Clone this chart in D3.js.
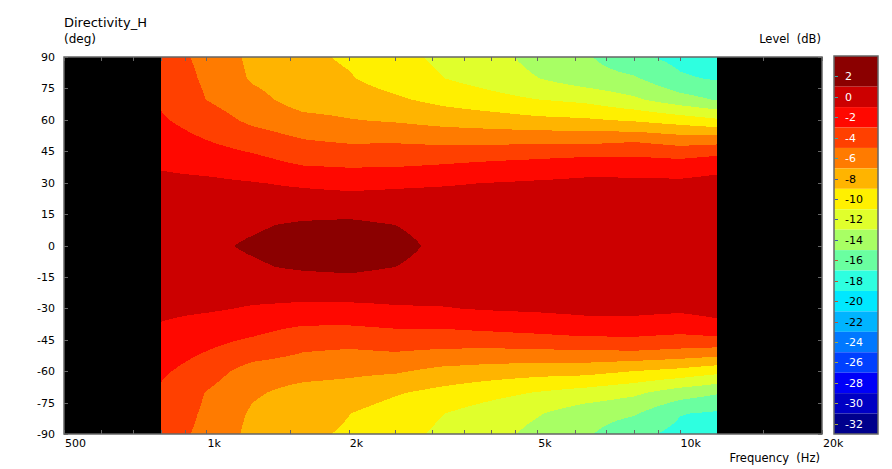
<!DOCTYPE html>
<html><head><meta charset="utf-8">
<script src="https://cdn.jsdelivr.net/npm/d3@7"></script>
<style>
body{margin:0;background:#fff;}
svg text{font-family:"DejaVu Sans",Verdana,sans-serif;font-size:11px;fill:#000;}
</style>
</head><body><svg id="chart" width="892" height="469"></svg>
<script>
// ---- data (dB level, rows are angles from +90 to -90 deg) ----
const freqs = [800,1000,1250,1600,2000,2500,3150,4000,5000,6300,8000,10000,12000];
const angles = [90,80,70,60,50,40,30,20,10,0,-10,-20,-30,-40,-50,-60,-70,-80,-90];
const db800   = [-4.2,-3.8,-3.3,-2.75,-2.02,-1.29,-0.55,0.0,0.3,0.4,0.3,0.0,-0.55,-1.27,-1.98,-2.7,-3.3,-3.8,-4.2];
const db1000  = [-5.45,-5.3,-5.05,-4.0,-2.94,-1.79,-0.6,0.15,0.55,0.7,0.55,0.1,-0.75,-2.05,-2.99,-4.05,-5.1,-5.3,-5.45];
const db1250  = [-7.5,-7.25,-6.33,-5.44,-3.86,-2.35,-0.9,0.0,0.8,1.2,0.8,-0.1,-1.2,-2.55,-3.91,-5.97,-6.73,-7.3,-7.6];
const db1600  = [-8.6,-8.3,-7.94,-6.4,-4.85,-3.32,-1.3,0.0,1.25,1.7,1.25,-0.1,-1.45,-3.39,-4.9,-6.3,-7.7,-8.3,-8.7];
const db2000  = [-9.25,-8.85,-8.0,-6.9,-5.2,-3.5,-1.6,0.0,1.4,1.9,1.4,0.1,-1.5,-3.4,-5.15,-6.6,-7.9,-8.98,-9.2];
const db2500  = [-10.4,-9.9,-8.7,-7.2,-5.15,-3.5,-1.3,-0.2,1.0,1.5,1.0,-0.1,-1.2,-3.1,-4.9,-6.8,-8.8,-9.9,-10.3];
const db3150  = [-11.4,-10.95,-9.6,-7.7,-5.4,-3.2,-1.15,-0.2,0.4,0.6,0.4,-0.2,-1.1,-3.1,-5.2,-7.6,-9.6,-10.95,-11.4];
const db4000  = [-12.3,-11.9,-10.35,-8.05,-5.47,-2.87,-0.95,-0.2,0.35,0.5,0.35,-0.2,-0.85,-2.8,-5.3,-8.0,-10.4,-12.0,-12.3];
const db5000  = [-13.7,-12.95,-11.0,-8.5,-5.3,-2.6,-0.75,-0.15,0.35,0.5,0.35,-0.15,-0.7,-2.5,-5.2,-8.3,-11.1,-12.85,-13.6];
const db6300  = [-14.7,-14.1,-11.5,-8.7,-5.45,-2.2,-0.55,0.0,0.4,0.5,0.4,0.0,-0.5,-2.05,-5.1,-8.4,-11.8,-14.1,-14.7];
const db8000  = [-16.5,-14.75,-12.7,-9.2,-5.1,-2.22,-0.55,0.0,0.45,0.6,0.45,0.0,-0.5,-2.0,-5.0,-9.1,-12.6,-14.8,-16.5];
const db10000 = [-17.6,-16.7,-14.2,-9.9,-5.7,-2.5,-0.6,0.0,0.45,0.6,0.45,0.0,-0.65,-2.4,-5.3,-9.7,-14.0,-16.9,-17.6];
const db12000 = [-18.4,-17.2,-15.2,-10.65,-5.55,-1.9,-0.35,-0.05,0.3,0.4,0.3,-0.05,-0.3,-1.85,-5.6,-10.5,-14.8,-17.3,-18.4];
const columns = [db800,db1000,db1250,db1600,db2000,db2500,db3150,db4000,db5000,db6300,db8000,db10000,db12000];

const bandLevels = [2,0,-2,-4,-6,-8,-10,-12,-14,-16,-18,-20,-22,-24,-26,-28,-30,-32];
const bandColors = ["#8b0000","#cc0000","#ff0800","#ff4000","#ff7b00","#ffb400","#fff000","#e0ff2c",
  "#a8ff64","#6affa0","#2effe0","#00e8ff","#00b4ff","#0078ff","#0040ff","#0000f8","#0000c4","#00008c"];
const xTickValues = [500,1000,2000,5000,10000,20000];
const xTickLabels = ["500","1k","2k","5k","10k","20k"];
const xMinorTicks = [600,700,800,900,1500,2500,3000,3500,4000,4500,6000,7000,8000,9000,15000];
const yTickValues = [90,75,60,45,30,15,0,-15,-30,-45,-60,-75,-90];

// ---- layout ----
const svg = d3.select("#chart");
const plot = {left:64, right:822, top:57, bottom:434};
const x = d3.scaleLog().domain([500,20000]).range([plot.left, plot.right]);
const y = d3.scaleLinear().domain([90,-90]).range([plot.top, plot.bottom]);
const cbar = {left:834, right:878};
const cy = d3.scaleLinear().domain([4,-33]).range([56,434]);
const color = d3.scaleOrdinal().domain(bandLevels).range(bandColors);

// plot background (no data = black)
svg.append("rect").attr("x",plot.left).attr("y",plot.top)
  .attr("width",plot.right-plot.left).attr("height",plot.bottom-plot.top).attr("fill","#000");

// ---- contour fill ----
const x0 = Math.round(x(freqs[0])), x1 = Math.round(x(freqs[freqs.length-1]));
const y0 = y(90), y1 = y(-90);
const nx = (x1-x0)+1, ny = Math.round(y1-y0)+1;
const fIndex = d3.scaleLinear().domain(freqs.map(Math.log)).range(d3.range(freqs.length)).clamp(true);
const aIndex = d3.scaleLinear().domain(angles).range(d3.range(angles.length)).clamp(true);
const grid = new Float64Array(nx*ny);
for (let j=0;j<ny;j++){
  const aj = aIndex(y.invert(Math.min(y0+j,y1)));
  const r0 = Math.min(Math.floor(aj), angles.length-2), tr = aj-r0;
  for (let i=0;i<nx;i++){
    const fi = fIndex(Math.log(x.invert(Math.min(x0+i,x1))));
    const c0 = Math.min(Math.floor(fi), freqs.length-2), tc = fi-c0;
    const a = columns[c0][r0], b = columns[c0+1][r0];
    const c = columns[c0][r0+1], d = columns[c0+1][r0+1];
    grid[j*nx+i] = (a*(1-tc)+b*tc)*(1-tr) + (c*(1-tc)+d*tc)*tr;
  }
}
const thresholds = bandLevels.map(l=>l-1).sort((p,q)=>p-q);
const contours = d3.contours().size([nx,ny]).thresholds(thresholds)(grid);
svg.append("clipPath").attr("id","dataclip").append("rect")
  .attr("x",x0).attr("y",y0).attr("width",x1-x0).attr("height",y1-y0);
const path = d3.geoPath(d3.geoIdentity().translate([x0,y0]));
svg.append("g").attr("clip-path","url(#dataclip)").attr("shape-rendering","crispEdges")
  .selectAll("path").data(contours).join("path")
  .attr("d",path).attr("fill",d=>color(d.value+1)).attr("stroke","none");

// ---- frame & ticks ----
const axisColor = "#666";
svg.append("rect").attr("x",plot.left).attr("y",plot.top)
  .attr("width",plot.right-plot.left).attr("height",plot.bottom-plot.top)
  .attr("fill","none").attr("stroke",axisColor).attr("stroke-width",1.5);
const tickG = svg.append("g").attr("stroke",axisColor).attr("stroke-width",1);
xTickValues.concat(xMinorTicks).forEach(v=>{
  const px = Math.round(x(v))+0.5;
  tickG.append("line").attr("x1",px).attr("x2",px).attr("y1",plot.bottom).attr("y2",plot.bottom-4);
  tickG.append("line").attr("x1",px).attr("x2",px).attr("y1",plot.top).attr("y2",plot.top+4);
});
yTickValues.forEach(v=>{
  const py = Math.round(y(v))+0.5;
  tickG.append("line").attr("x1",plot.left).attr("x2",plot.left+4).attr("y1",py).attr("y2",py);
  tickG.append("line").attr("x1",plot.right).attr("x2",plot.right-4).attr("y1",py).attr("y2",py);
});
xTickValues.forEach((v,i)=>{
  svg.append("text").attr("x",x(v)+1).attr("y",447).text(xTickLabels[i]);
});
yTickValues.forEach(v=>{
  svg.append("text").attr("x",55).attr("y",y(v)+4).attr("text-anchor","end").text(v);
});

// titles
svg.append("text").attr("x",64).attr("y",27).style("font-size","13px").text("Directivity_H");
svg.append("text").attr("x",64).attr("y",43).style("font-size","12px").text("(deg)");
svg.append("text").attr("x",821).attr("y",43).attr("text-anchor","end").style("font-size","11.5px").style("white-space","pre").text("Level  (dB)");
svg.append("text").attr("x",820).attr("y",462).attr("text-anchor","end").style("font-size","11.5px").style("white-space","pre").text("Frequency  (Hz)");

// ---- colour bar ----
const cb = svg.append("g");
bandLevels.forEach((l,i)=>{
  const top = i===0 ? cy(4) : cy(l+1);
  cb.append("rect").attr("x",cbar.left).attr("y",top).attr("width",cbar.right-cbar.left)
    .attr("height",cy(l-1)-top).attr("fill",color(l));
});
cb.append("rect").attr("x",cbar.left).attr("y",cy(4)).attr("width",cbar.right-cbar.left)
  .attr("height",cy(-33)-cy(4)).attr("fill","none").attr("stroke",axisColor).attr("stroke-width",1.5);
const tickColors = l => l>=-6 ? "#3aa6a6" : l>=-14 ? "#3a5ab0" : l>=-22 ? "#c8502a" : "#a8a838";
bandLevels.forEach(l=>{
  const py = Math.round(cy(l))+0.5;
  cb.append("line").attr("x1",cbar.left+1).attr("x2",cbar.left+4).attr("y1",py).attr("y2",py)
    .attr("stroke",tickColors(l)).attr("stroke-width",1);
  cb.append("text").attr("x",845).attr("y",cy(l)+4)
    .style("fill",(l>=-6||l<=-24)?"#fff":"#000").text(l);
});
</script>
</body></html>
